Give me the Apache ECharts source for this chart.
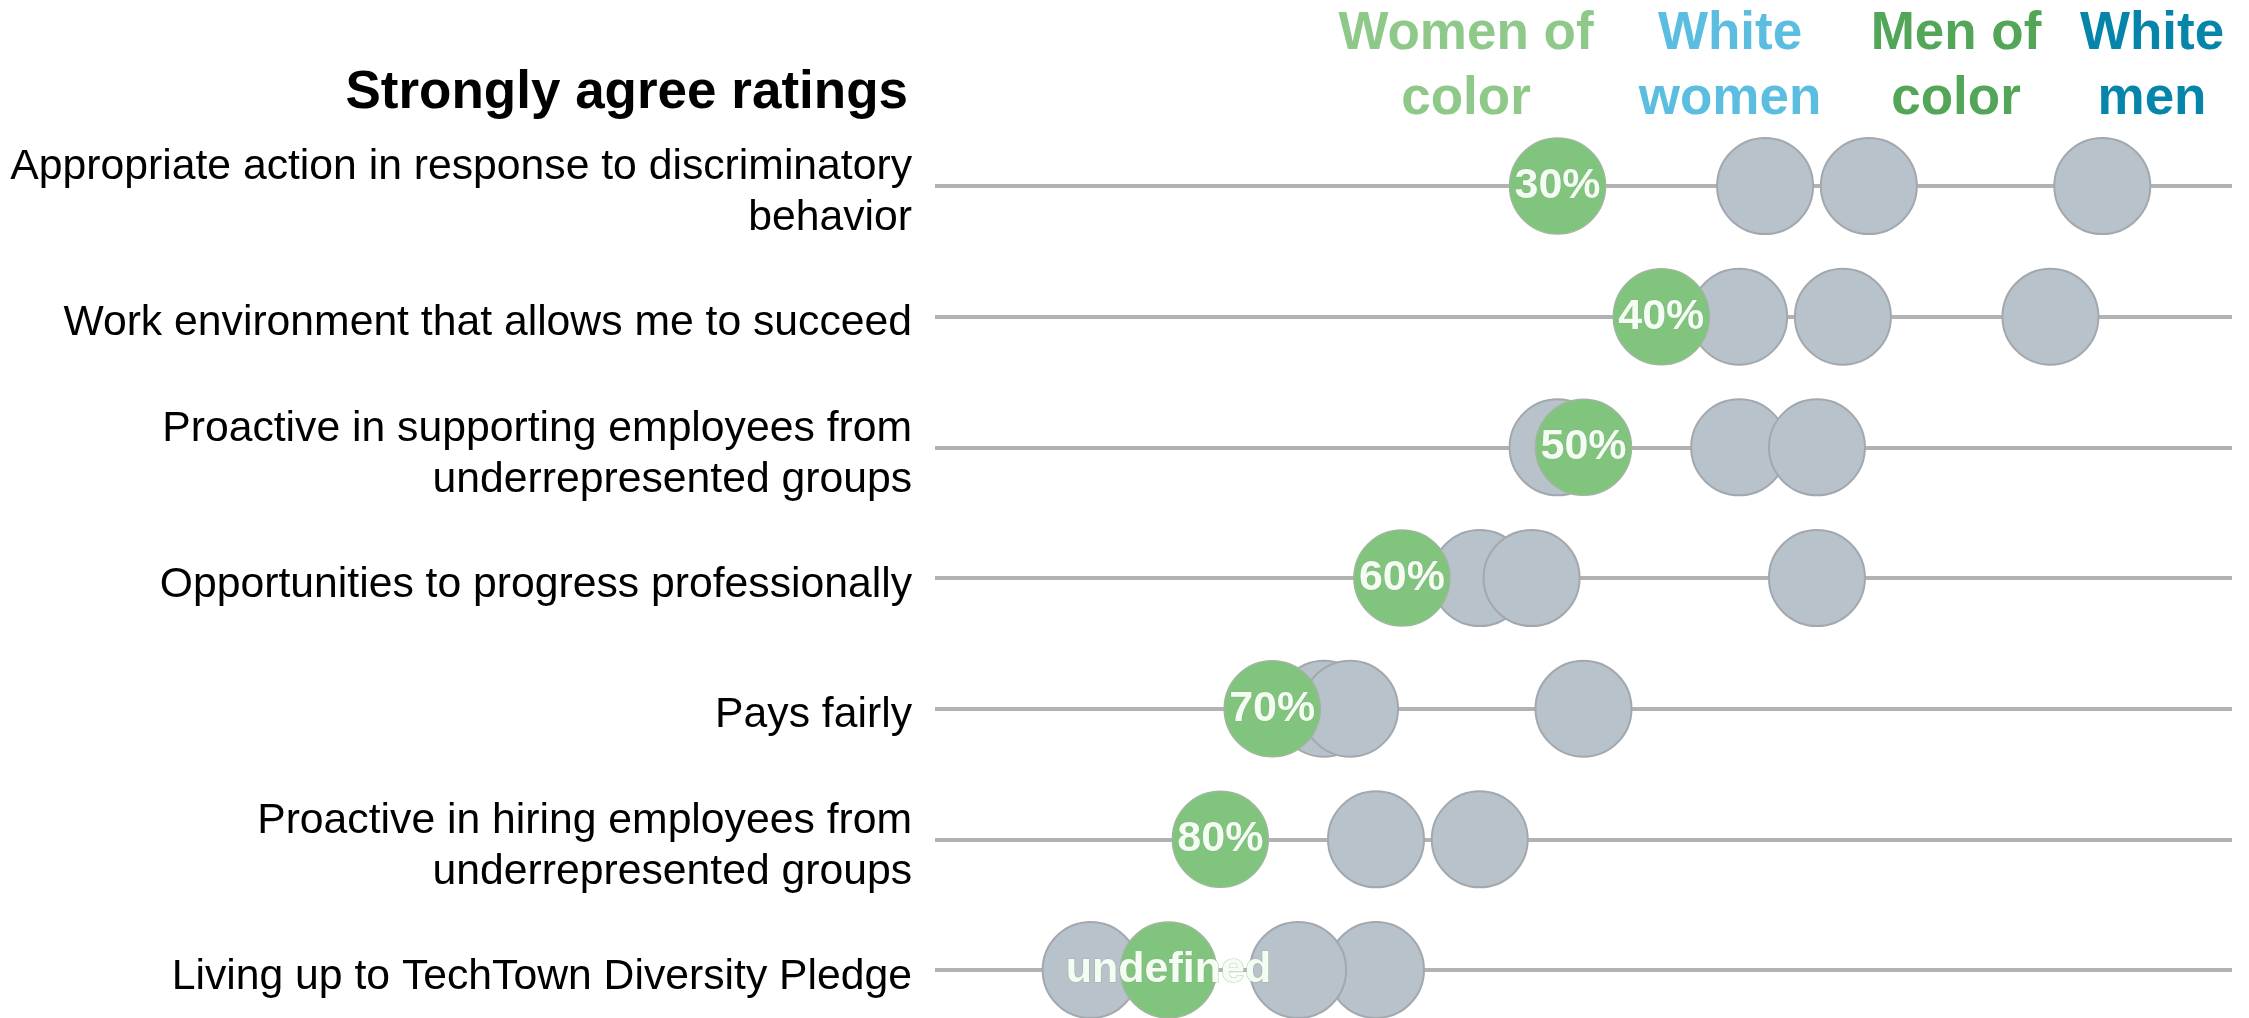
<!DOCTYPE html>
<html>
<head>
<meta charset="utf-8">
<script src="https://cdn.jsdelivr.net/npm/echarts@6/dist/echarts.min.js"></script>
<style>
  html, body { margin: 0; padding: 0; background: #ffffff; }
  #chart { width: 2249px; height: 1018px; }
</style>
</head>
<body>
<div id="chart"></div>
<script>
// Survey statements, top to bottom
const categories = [
  'Appropriate action in response to discriminatory\nbehavior',
  'Work environment that allows me to succeed',
  'Proactive in supporting employees from\nunderrepresented groups',
  'Opportunities to progress professionally',
  'Pays fairly',
  'Proactive in hiring employees from\nunderrepresented groups',
  'Living up to TechTown Diversity Pledge'
];

// Share of "strongly agree" answers (0–100 scale) per group
const womenOfColor = [48, 56, 50, 36, 26, 22, 18];
const whiteWomen   = [64, 62, 48, 42, 30, 34, 12];
const menOfColor   = [72, 70, 62, 46, 32, 42, 34];
const whiteMen     = [90, 86, 68, 68, 50, null, 28];

// Text shown inside the highlighted dots
const pctLabels = ['30%', '40%', '50%', '60%', '70%', '80%'];

// Column headings
const groupHeads = [
  { text: 'Women of\ncolor', x: 1466, color: '#8ec98a' },
  { text: 'White\nwomen',    x: 1730, color: '#5bbde0' },
  { text: 'Men of\ncolor',   x: 1956, color: '#53a558' },
  { text: 'White\nmen',      x: 2152, color: '#0585a9' }
];

const FONT = '"Liberation Sans", Arial, Helvetica, sans-serif';
const DOT = 96;

function toPoints(values) {
  return values
    .map((v, i) => (v == null ? null : [v, i]))
    .filter(p => p !== null);
}

function graySeries(name, values) {
  return {
    type: 'scatter',
    name: name,
    data: toPoints(values),
    symbol: 'circle',
    symbolSize: DOT,
    z: 2,
    itemStyle: { color: '#b8c2ca', borderColor: '#a3a8ae', borderWidth: 2, opacity: 1 },
    emphasis: { disabled: true },
    silent: true
  };
}

const chart = echarts.init(document.getElementById('chart'), null, { renderer: 'canvas' });

chart.setOption({
  animation: false,
  backgroundColor: '#ffffff',
  // grid 0: row lines and dots; grid 1: row captions, set a few pixels lower
  grid: [
    { left: 935, right: 17, top: 186, bottom: 48, containLabel: false },
    { left: 935, right: 17, top: 193, bottom: 41, containLabel: false }
  ],
  xAxis: [
    { type: 'value', gridIndex: 0, min: 0, max: 100, show: false },
    { type: 'value', gridIndex: 1, min: 0, max: 100, show: false }
  ],
  yAxis: [
    {
      type: 'category',
      gridIndex: 0,
      data: categories,
      inverse: true,
      boundaryGap: false,
      axisLine: { show: false },
      axisTick: { show: false },
      axisLabel: { show: false },
      splitLine: {
        show: true,
        interval: 0,
        lineStyle: { color: '#b2b2b2', width: 4 }
      }
    },
    {
      type: 'category',
      gridIndex: 1,
      data: categories,
      inverse: true,
      boundaryGap: false,
      axisLine: { show: false },
      axisTick: { show: false },
      splitLine: { show: false },
      axisLabel: {
        margin: 23,
        align: 'right',
        color: '#000000',
        fontFamily: FONT,
        fontSize: 42.7,
        lineHeight: 51
      }
    }
  ],
  graphic: [
    {
      type: 'text',
      x: 908,
      y: 93,
      style: {
        text: 'Strongly agree ratings',
        font: 'bold 53px ' + FONT,
        fill: '#000000',
        textAlign: 'right',
        textVerticalAlign: 'middle'
      }
    }
  ].concat(groupHeads.map(h => ({
    type: 'text',
    x: h.x,
    y: 67,
    style: {
      text: h.text,
      font: 'bold 53px ' + FONT,
      lineHeight: 65,
      fill: h.color,
      textAlign: 'center',
      textVerticalAlign: 'middle'
    }
  }))),
  series: [
    graySeries('White women', whiteWomen),
    graySeries('Men of color', menOfColor),
    graySeries('White men', whiteMen),
    {
      type: 'scatter',
      name: 'Women of color',
      data: toPoints(womenOfColor),
      symbol: 'circle',
      symbolSize: DOT,
      z: 3,
      itemStyle: { color: '#80c47e', borderColor: '#9db79b', borderWidth: 1.5, opacity: 1 },
      emphasis: { disabled: true },
      silent: true,
      label: {
        show: true,
        position: 'inside',
        formatter: p => String(pctLabels[p.dataIndex]),
        fontFamily: FONT,
        fontSize: 43,
        fontWeight: 'bold',
        color: '#f4fdf1',
        textBorderColor: 'rgba(140,170,140,0.55)',
        textBorderWidth: 1.2
      },
      labelLayout: { hideOverlap: false }
    }
  ]
});
</script>
</body>
</html>
